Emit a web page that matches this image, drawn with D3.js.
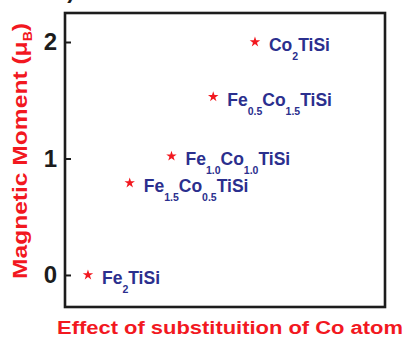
<!DOCTYPE html>
<html>
<head>
<meta charset="utf-8">
<script src="https://cdn.jsdelivr.net/npm/d3@7"></script>
<style>
  body { margin: 0; background: #fff; }
  text { font-family: "Liberation Sans", Arial, sans-serif; font-weight: bold; }
</style>
</head>
<body>
<div id="viz"></div>
<script>
// chart data: Co content of each compound and its magnetic moment
var coContent = [0, 0.5, 1.0, 1.5, 2.0];
var moments = [0, 0.79, 1.02, 1.53, 2.0];
// formula pieces: even index = normal text, odd index = subscript
var formulas = [
  ["Fe", "2", "TiSi"],
  ["Fe", "1.5", "Co", "0.5", "TiSi"],
  ["Fe", "1.0", "Co", "1.0", "TiSi"],
  ["Fe", "0.5", "Co", "1.5", "TiSi"],
  ["Co", "2", "TiSi"]
];
var yTicks = [0, 1, 2];
var xTitle = "Effect of substituition of Co atom";
var yTitle = "Magnetic Moment (\u03bc";
var yTitleSub = "B";

// note: 'top' is a reserved window property, so the frame edges get their own names
var W = 406, H = 341;
var frameL = 65, frameR = 385, frameT = 13, frameB = 307;

var red = "#f2181f", blue = "#2b2f8e", ink = "#1c1c1c";

var svg = d3.select("#viz").append("svg")
  .attr("width", W).attr("height", H);

var x = d3.scaleLinear().domain([-0.275, 3.557]).range([frameL, frameR]);
var y = d3.scaleLinear().domain([-0.275, 2.249]).range([frameB, frameT]);

// panel letter, mostly cut off at the top
svg.append("text").attr("x", 55).attr("y", -2)
  .attr("font-size", 22).attr("fill", ink).text("c)");

// y axis with inward ticks
var yAxis = d3.axisLeft(y).tickValues(yTicks).tickSizeInner(-6).tickSizeOuter(0)
  .tickFormat(d3.format("d")).tickPadding(8);
var gy = svg.append("g").attr("transform", "translate(" + frameL + ",0)").call(yAxis);
gy.select(".domain").remove();
gy.selectAll(".tick line").attr("stroke", ink).attr("stroke-width", 2);
gy.selectAll(".tick text").attr("font-size", 24).attr("fill", ink)
  .attr("font-family", "Liberation Sans, Arial, sans-serif").attr("font-weight", "bold");

// frame
svg.append("rect").attr("x", frameL).attr("y", frameT)
  .attr("width", frameR - frameL).attr("height", frameB - frameT)
  .attr("fill", "none").attr("stroke", ink).attr("stroke-width", 2.6);

// stars
var star = d3.symbol().type(d3.symbolStar).size(34);
svg.selectAll("path.pt").data(coContent).enter().append("path")
  .attr("class", "pt")
  .attr("d", star)
  .attr("fill", red)
  .attr("transform", function (d, i) { return "translate(" + x(d) + "," + y(moments[i]) + ")"; });

// formula labels, sitting a little below the star
var lab = svg.selectAll("text.lab").data(coContent).enter().append("text")
  .attr("class", "lab")
  .attr("x", function (d) { return x(d) + 14; })
  .attr("y", function (d, i) { return y(moments[i]) + 9; })
  .attr("fill", blue)
  .attr("font-size", 17.5);
lab.each(function (d, i) {
  var t = d3.select(this);
  formulas[i].forEach(function (part, k) {
    var sub = k % 2 === 1;
    t.append("tspan")
      .attr("font-size", sub ? 10.5 : 17.5)
      .attr("dy", sub ? 9 : (k === 0 ? 0 : -9))
      .text(part);
  });
});

// axis titles (the source glyphs look stretched sideways)
svg.append("text")
  .attr("x", 230).attr("y", 334)
  .attr("text-anchor", "middle")
  .attr("font-size", 18)
  .attr("fill", red)
  .attr("textLength", 346)
  .attr("lengthAdjust", "spacingAndGlyphs")
  .text(xTitle);

var yt = svg.append("text")
  .attr("transform", "translate(27,151) rotate(-90)")
  .attr("text-anchor", "middle")
  .attr("font-size", 21)
  .attr("fill", red)
  .attr("textLength", 256)
  .attr("lengthAdjust", "spacingAndGlyphs");
yt.append("tspan").text(yTitle);
yt.append("tspan").attr("font-size", 12).attr("dy", 5).text(yTitleSub);
yt.append("tspan").attr("dy", -5).text(")");
</script>
</body>
</html>
